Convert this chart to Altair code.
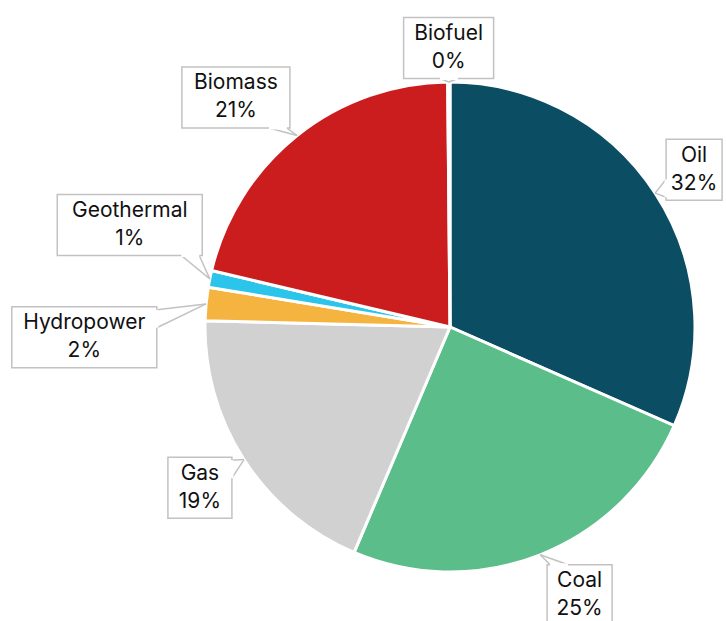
import altair as alt
import pandas as pd

# ---------------- data ----------------
categories = ["Oil", "Coal", "Gas", "Hydropower", "Geothermal", "Biomass", "Biofuel"]
shares = [31.6, 24.8, 19.0, 2.2, 1.1, 21.15, 0.15]
colors = ["#0b4d62", "#5bbd8a", "#d0d1d0", "#f5b43f", "#2bc5eb", "#cc1d1e", "#7a5aa6"]

# ---------------- layout (not data) ----------------
CX, CY, R = 450, 327, 245
LABEL_DIST = 295
BOX_H = 61
TAIL_HALF = 9
FONT = "Inter"
FONT_SIZE = 21
# box width, nudge dx, nudge dy for the callout boxes
label_layout = {
    "Oil": (56, -3, 4),
    "Coal": (65, 21, -6),
    "Gas": (64, -2, 1),
    "Hydropower": (145, -72, 38),
    "Geothermal": (145, -31, -44),
    "Biomass": (108, -30, 1),
    "Biofuel": (90, 0, 16),
}

df = pd.DataFrame({
    "category": categories,
    "share": shares,
    "order": list(range(len(categories))),
})
df["bw"] = [label_layout[c][0] for c in categories]
df["ndx"] = [label_layout[c][1] for c in categories]
df["ndy"] = [label_layout[c][2] for c in categories]

H2 = BOX_H / 2

base = (
    alt.Chart(df)
    .transform_joinaggregate(total="sum(share)")
    .transform_window(cum="sum(share)", sort=[alt.SortField("order")], frame=[None, 0])
    .transform_calculate(
        mid="2*PI*(datum.cum - datum.share/2)/datum.total",
    )
    .transform_calculate(
        pct="format(datum.share/datum.total, '.0%')",
        tipx=f"{CX} + {R}*sin(datum.mid)",
        tipy=f"{CY} - {R}*cos(datum.mid)",
        bcx=f"{CX} + {LABEL_DIST}*sin(datum.mid) + datum.ndx",
        bcy=f"{CY} - {LABEL_DIST}*cos(datum.mid) + datum.ndy",
    )
    .transform_calculate(
        bx1="datum.bcx - datum.bw/2",
        bx2="datum.bcx + datum.bw/2",
        by1=f"datum.bcy - {H2}",
        by2=f"datum.bcy + {H2}",
        hx="abs(datum.tipx - datum.bcx)/(datum.bw/2)",
        hy=f"abs(datum.tipy - datum.bcy)/{H2}",
    )
    .transform_calculate(
        vert="datum.hy >= datum.hx",
        ex="datum.tipx > datum.bcx ? datum.bx2 : datum.bx1",
        ey="datum.tipy > datum.bcy ? datum.by2 : datum.by1",
        cxc=f"clamp(datum.tipx, datum.bx1 + {TAIL_HALF + 3}, datum.bx2 - {TAIL_HALF + 3})",
        cyc=f"clamp(datum.tipy, datum.by1 + {TAIL_HALF + 3}, datum.by2 - {TAIL_HALF + 3})",
    )
    .transform_calculate(
        t1x=f"datum.vert ? datum.cxc - {TAIL_HALF} : datum.ex",
        t1y=f"datum.vert ? datum.ey : datum.cyc - {TAIL_HALF}",
        t2x=f"datum.vert ? datum.cxc + {TAIL_HALF} : datum.ex",
        t2y=f"datum.vert ? datum.ey : datum.cyc + {TAIL_HALF}",
    )
)

arcs = alt.Chart(df).mark_arc(
    outerRadius=R, x=CX, y=CY, stroke="white", strokeWidth=3
).encode(
    theta=alt.Theta("share:Q", stack=True),
    color=alt.Color("category:N", scale=alt.Scale(domain=categories, range=colors), legend=None),
    order=alt.Order("order:Q"),
)

boxes = base.mark_rect(fill="white", stroke="#c2c2c2", strokeWidth=1.5).encode(
    x=alt.X("bx1:Q", scale=None, axis=None),
    x2="bx2:Q",
    y=alt.Y("by1:Q", scale=None, axis=None),
    y2="by2:Q",
)

erase = base.mark_rule(stroke="white", strokeWidth=3).encode(
    x=alt.X("t1x:Q", scale=None, axis=None),
    y=alt.Y("t1y:Q", scale=None, axis=None),
    x2="t2x:Q",
    y2="t2y:Q",
)

tail1 = base.mark_rule(stroke="#c2c2c2", strokeWidth=1.5).encode(
    x=alt.X("t1x:Q", scale=None, axis=None),
    y=alt.Y("t1y:Q", scale=None, axis=None),
    x2="tipx:Q",
    y2="tipy:Q",
)
tail2 = base.mark_rule(stroke="#c2c2c2", strokeWidth=1.5).encode(
    x=alt.X("t2x:Q", scale=None, axis=None),
    y=alt.Y("t2y:Q", scale=None, axis=None),
    x2="tipx:Q",
    y2="tipy:Q",
)

name_text = base.mark_text(font=FONT, fontSize=FONT_SIZE, color="#111111", dy=-14, baseline="middle").encode(
    x=alt.X("bcx:Q", scale=None, axis=None),
    y=alt.Y("bcy:Q", scale=None, axis=None),
    text="category:N",
)
pct_text = base.mark_text(font=FONT, fontSize=FONT_SIZE, color="#111111", dy=14, baseline="middle").encode(
    x=alt.X("bcx:Q", scale=None, axis=None),
    y=alt.Y("bcy:Q", scale=None, axis=None),
    text="pct:N",
)

chart = alt.layer(arcs, tail1, tail2, boxes, erase, name_text, pct_text).properties(
    width=726, height=621, autosize=alt.AutoSizeParams(type="none"), padding=0,
    background="white",
).configure_view(stroke=None)

chart.save("out.html", embed_options={"renderer": "svg", "actions": False})
